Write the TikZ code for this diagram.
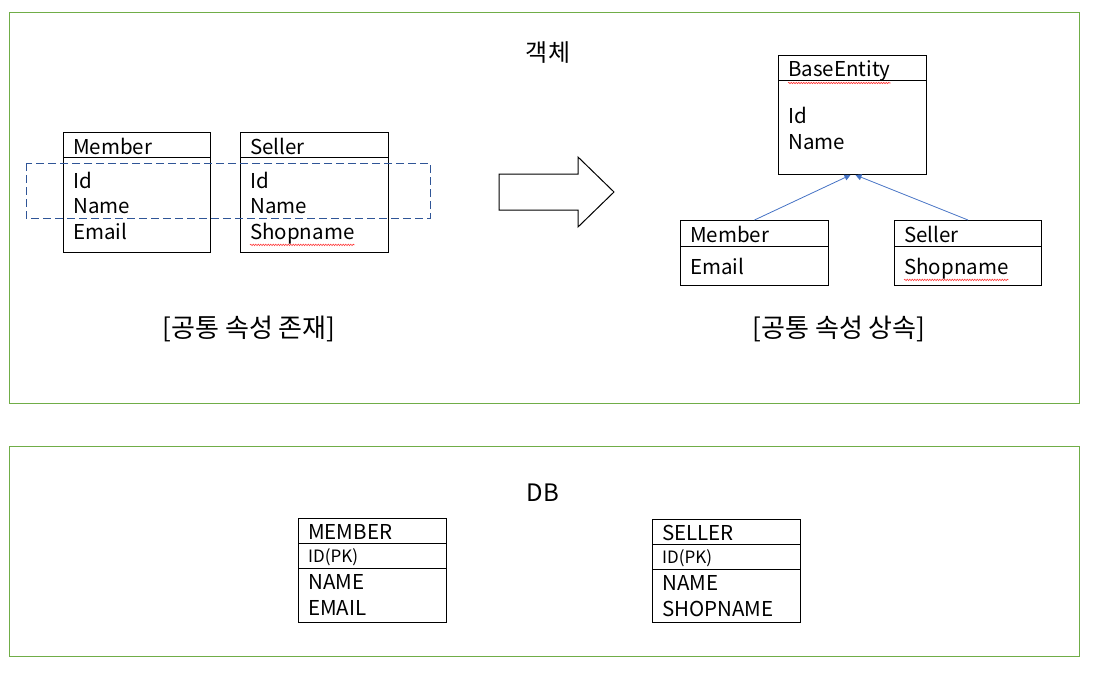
\documentclass[tikz,border=0pt]{standalone}
\usepackage{fontspec}
\setmainfont{Noto Sans CJK KR}
\usetikzlibrary{arrows.meta,decorations.pathmorphing}
\definecolor{framegreen}{RGB}{112,173,71}
\definecolor{linkblue}{RGB}{68,114,196}
\definecolor{dashblue}{RGB}{47,85,151}
\tikzset{
  frame/.style={draw=framegreen, line width=1pt},
  classbox/.style={draw, line width=1pt, anchor=north west, inner sep=0pt},
  classline/.style={line width=1pt},
  field/.style={anchor=base west, inner sep=0pt, font=\fontsize{20.5}{24}\selectfont},
  keyfield/.style={field, font=\fontsize{17}{20}\selectfont},
  caption/.style={font=\fontsize{26}{30}\selectfont},
  spell/.style={draw=red!80, line width=0.6pt, decorate,
    decoration={snake, amplitude=0.7pt, segment length=2.5pt}},
  inherit/.style={draw=linkblue, line width=0.8pt, -{Triangle[length=6pt,width=6pt]}}
}
\begin{document}
\begin{tikzpicture}[x=1pt,y=-1pt]
  \useasboundingbox (0,0) rectangle (1112,688);

  % Frames
  \draw[frame] (9,12) rectangle (1079,403);
  \draw[frame] (9,446) rectangle (1079,656);
  \node[caption, font=\fontsize{24}{28}\selectfont] (objtitle) at (548,53) {객체};
  \node[caption, font=\fontsize{24}{28}\selectfont] (dbtitle) at (543,493) {DB};

  % Common fields in each class
  \node[classbox, minimum width=147, minimum height=120] (member) at (63,132) {};
  \draw[classline] (63,157) -- (210,157);
  \node[field] (memberhead) at (73,154) {Member};
  \foreach \txt/\y in {Id/188, Name/213, Email/239}
    \node[field] (mf\y) at (73,\y) {\txt};

  \node[classbox, minimum width=148, minimum height=120] (seller) at (240,132) {};
  \draw[classline] (240,157) -- (388,157);
  \node[field] (sellerhead) at (250,154) {Seller};
  \foreach \txt/\y in {Id/188, Name/213}
    \node[field] (sf\y) at (250,\y) {\txt};
  \node[field] (shopone) at (250,239) {Shopname};
  \draw[spell] ([yshift=-1pt]shopone.south west) -- ([yshift=-1pt]shopone.south east);

  \draw[dashblue, line width=1pt, dash pattern=on 8pt off 4pt] (26,163) rectangle (430,218);
  \node[caption] (capleft) at (249,329) {[공통 속성 존재]};

  % Block arrow
  \draw[line width=1pt] (499,174) -- (578,174) -- (578,157) -- (614,192)
    -- (578,227) -- (578,210) -- (499,210) -- cycle;

  % Inherited fields
  \node[classbox, minimum width=148, minimum height=119] (base) at (778,55) {};
  \draw[classline] (778,80) -- (926,80);
  \node[field] (basehead) at (788,76) {BaseEntity};
  \draw[spell] ([yshift=-2pt]basehead.south west) -- ([yshift=-2pt]basehead.south east);
  \node[field] (bf1) at (788,123) {Id};
  \node[field] (bf2) at (788,149) {Name};

  \node[classbox, minimum width=148, minimum height=65] (child1) at (680,220) {};
  \draw[classline] (680,246) -- (828,246);
  \node[field] (child1head) at (690,242) {Member};
  \node[field] (child1f) at (690,274) {Email};

  \node[classbox, minimum width=147, minimum height=65] (child2) at (894,220) {};
  \draw[classline] (894,246) -- (1041,246);
  \node[field] (child2head) at (904,242) {Seller};
  \node[field] (shoptwo) at (904,274) {Shopname};
  \draw[spell] ([yshift=-1pt]shoptwo.south west) -- ([yshift=-1pt]shoptwo.south east);

  \draw[inherit] (child1.north) -- ([xshift=-2pt]base.south);
  \draw[inherit] (child2.north) -- ([xshift=3pt]base.south);
  \node[caption] (capright) at (839,329) {[공통 속성 상속]};

  % Tables
  \node[classbox, minimum width=148, minimum height=104] (mtable) at (298,518) {};
  \draw[classline] (298,543) -- (446,543);
  \draw[classline] (298,568) -- (446,568);
  \node[field] (mthead) at (308,539) {MEMBER};
  \node[keyfield] (mtkey) at (308,562) {ID(PK)};
  \node[field] (mtf1) at (308,589) {NAME};
  \node[field] (mtf2) at (308,615) {EMAIL};

  \node[classbox, minimum width=148, minimum height=103] (stable) at (652,519) {};
  \draw[classline] (652,544) -- (800,544);
  \draw[classline] (652,569) -- (800,569);
  \node[field] (sthead) at (662,540) {SELLER};
  \node[keyfield] (stkey) at (662,563) {ID(PK)};
  \node[field] (stf1) at (662,590) {NAME};
  \node[field] (stf2) at (662,616) {SHOPNAME};
\end{tikzpicture}
\end{document}
